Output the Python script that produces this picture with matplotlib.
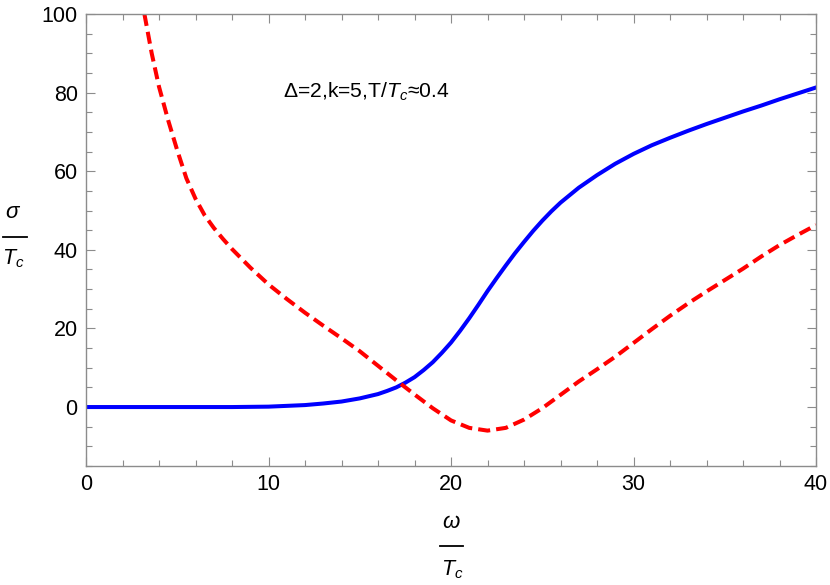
import numpy as np
from matplotlib import pyplot as plt
from matplotlib.lines import Line2D
from matplotlib.ticker import MultipleLocator

plt.rcParams['font.family'] = ['Liberation Sans', 'DejaVu Sans']
plt.rcParams['mathtext.fontset'] = 'custom'
plt.rcParams['mathtext.rm'] = 'Liberation Sans'
plt.rcParams['mathtext.it'] = 'Liberation Sans:italic'
plt.rcParams['mathtext.bf'] = 'Liberation Sans:bold'

w_re = [0, 2, 4, 6, 8, 10, 11, 12, 13, 14, 15, 16, 16.5, 17, 17.5, 18, 18.5,
        19, 19.5, 20, 20.5, 21, 21.5, 22, 22.5, 23, 23.5, 24, 24.5, 25, 25.5,
        26, 27, 28, 29, 30, 31, 32, 33, 34, 35, 36, 37, 38, 39, 40]
s_re = [0, 0, 0, 0, 0, 0.1, 0.3, 0.5, 0.9, 1.4, 2.2, 3.3, 4.1, 5.0, 6.2,
        7.6, 9.4, 11.4, 13.8, 16.4, 19.4, 22.6, 26.0, 29.5, 32.8, 36.0,
        39.1, 42.0, 44.8, 47.4, 49.8, 52.0, 55.8, 59.0, 61.9, 64.4, 66.6,
        68.5, 70.3, 72.0, 73.6, 75.2, 76.7, 78.3, 79.8, 81.3]

# imaginary part (dashed red)
w_im = [3.2, 3.6, 4.0, 4.5, 5.0, 5.5, 6.0, 6.5, 7.0, 7.5, 8, 9, 10, 11, 12,
        13, 14, 15, 16, 17, 18, 19, 20, 21, 22, 23, 24, 25, 26, 27, 28, 29,
        30, 31, 32, 33, 34, 35, 36, 37, 38, 39, 40]
s_im = [100, 90, 81.5, 73, 65.3, 58.2, 53, 48.8, 45.6, 42.8, 40.2, 35.5,
        31.2, 27.5, 24.0, 20.7, 17.5, 14.2, 10.5, 6.8, 3.2, -0.3, -3.4,
        -5.3, -6.0, -5.3, -3.2, -0.3, 3.1, 6.5, 9.6, 12.8, 16.3, 19.8, 23.2,
        26.4, 29.4, 32.3, 35.2, 38.3, 41.2, 43.8, 46.3]

fig = plt.figure(figsize=(8.3, 5.85), dpi=100)
ax = fig.add_axes([86 / 830, 1 - 466 / 585, 730 / 830, 452 / 585])

ax.plot(w_re, s_re, color=(0, 0, 1), lw=2.9, solid_joinstyle='round')
ax.plot(w_im, s_im, color=(1, 0, 0), lw=2.9, dashes=(3.0, 1.5))

ax.set_xlim(0, 40)
ax.set_ylim(-15, 100)
ax.xaxis.set_major_locator(MultipleLocator(10))
ax.xaxis.set_minor_locator(MultipleLocator(2))
ax.yaxis.set_major_locator(MultipleLocator(20))
ax.yaxis.set_minor_locator(MultipleLocator(5))

for s in ax.spines.values():
    s.set_color('#8c8c8c')
    s.set_linewidth(1.0)
ax.tick_params(which='both', direction='in', top=True, right=True,
               color='#8c8c8c', width=0.8, labelsize=15.5, labelcolor='black')
ax.tick_params(which='major', length=6.5, pad=6)
ax.tick_params(which='minor', length=4)

ax.text(10.8, 80.1, r'Δ=2,k=5,T/$T_c$≈0.4', fontsize=15.2, va='center', ha='left')

# fraction-style axis labels
fig.text(12 / 830, 1 - 213 / 585, 'σ', fontsize=16, style='italic',
         ha='center', va='center')
fig.add_artist(Line2D([3 / 830, 27 / 830], [1 - 237 / 585, 1 - 237 / 585],
                      color='black', lw=1.3))
fig.text(13 / 830, 1 - 259 / 585, r'$T_c$', fontsize=15.5, ha='center', va='center')

fig.text(451 / 830, 1 - 522 / 585, 'ω', fontsize=16, style='italic',
         ha='center', va='center')
fig.add_artist(Line2D([440 / 830, 463 / 830], [1 - 546 / 585, 1 - 546 / 585],
                      color='black', lw=1.3))
fig.text(452 / 830, 1 - 570 / 585, r'$T_c$', fontsize=15.5, ha='center', va='center')

plt.savefig('out.png', dpi=100)
